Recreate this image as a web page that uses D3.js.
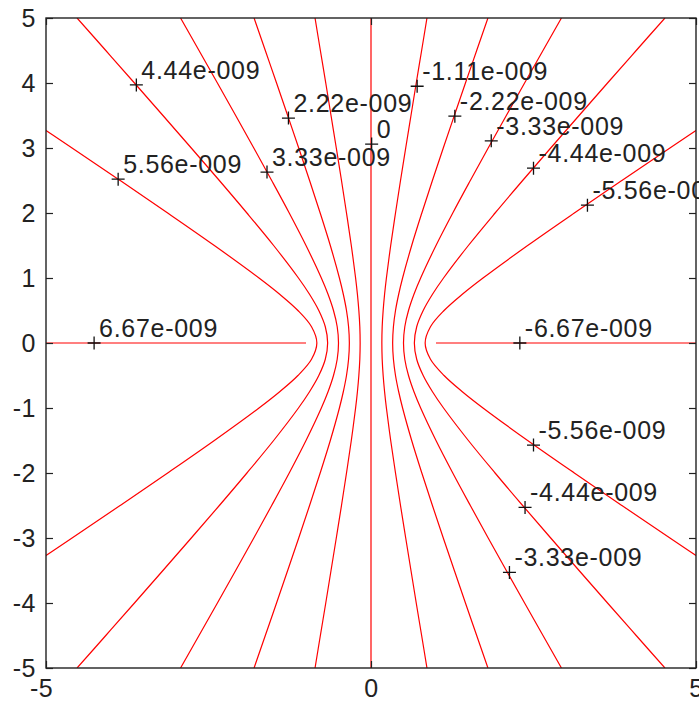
<!DOCTYPE html>
<html>
<head>
<meta charset="utf-8">
<script src="https://cdn.jsdelivr.net/npm/d3@7"></script>
<style>
body { margin: 0; background: #fff; }
text { font-family: "Liberation Sans", Arial, sans-serif; }
</style>
</head>
<body>
<svg id="chart" width="699" height="702"></svg>
<script>
// ticks
var xTicks = [-5, 0, 5];
var yTicks = [-5, -4, -3, -2, -1, 0, 1, 2, 3, 4, 5];

// contour half-widths |x| read at these |y| values (curves are symmetric)
var ys = [0, 0.25, 0.5, 0.75, 1, 1.5, 2, 2.5, 3, 3.5, 4, 4.5, 5];
var level1 = [0.167, 0.172, 0.187, 0.209, 0.237, 0.303, 0.377, 0.454, 0.534, 0.615, 0.696, 0.779, 0.861];
var level2 = [0.333, 0.345, 0.377, 0.426, 0.486, 0.626, 0.782, 0.945, 1.112, 1.282, 1.453, 1.626, 1.799];
var level3 = [0.500, 0.520, 0.577, 0.661, 0.764, 1.000, 1.258, 1.528, 1.803, 2.082, 2.363, 2.646, 2.930];
var level4 = [0.667, 0.703, 0.803, 0.946, 1.116, 1.498, 1.909, 2.333, 2.765, 3.201, 3.639, 4.080, 4.522];
var level5 = [0.833, 0.915, 1.124, 1.405, 1.723, 2.410, 3.128, 3.860, 4.599, 5.342];

// zero contour and the two flat +-6.67e-009 contours on the x axis
var zeroLine = [[0, -5], [0, 5]];
var flatLeft = [[-5, 0], [-1, 0]];
var flatRight = [[1, 0], [5, 0]];

// contour labels
var labelText = ["4.44e-009", "2.22e-009", "0", "3.33e-009", "5.56e-009", "6.67e-009",
  "-1.11e-009", "-2.22e-009", "-3.33e-009", "-4.44e-009", "-5.56e-009", "-6.67e-009",
  "-5.56e-009", "-4.44e-009", "-3.33e-009"];
var labelX = [-3.61, -1.27, 0.01, -1.60, -3.89, -4.26,
  0.71, 1.29, 1.85, 2.50, 3.33, 2.29,
  2.50, 2.37, 2.13];
var labelY = [3.97, 3.46, 3.06, 2.63, 2.52, 0,
  3.95, 3.49, 3.11, 2.69, 2.12, 0,
  -1.57, -2.53, -3.53];

var svg = d3.select("#chart");
var padLeft = 46, padTop = 18, size = 650;

var x = d3.scaleLinear().domain([-5, 5]).range([padLeft, padLeft + size]);
var y = d3.scaleLinear().domain([-5, 5]).range([padTop + size, padTop]);

svg.append("rect").attr("width", 699).attr("height", 702).attr("fill", "#fff");

svg.append("clipPath").attr("id", "plotclip")
  .append("rect").attr("x", padLeft).attr("y", padTop).attr("width", size).attr("height", size);

var line = d3.line()
  .x(function(d) { return x(d[0]); })
  .y(function(d) { return y(d[1]); })
  .curve(d3.curveCatmullRom);

function branch(widths, side) {
  var pts = [];
  for (var i = widths.length - 1; i > 0; i--) pts.push([side * widths[i], -ys[i]]);
  for (var j = 0; j < widths.length; j++) pts.push([side * widths[j], ys[j]]);
  return pts;
}

var curves = [];
[level1, level2, level3, level4, level5].forEach(function(w) {
  curves.push(branch(w, -1));
  curves.push(branch(w, 1));
});
curves.push(zeroLine, flatLeft, flatRight);

var g = svg.append("g").attr("clip-path", "url(#plotclip)");
g.selectAll("path.contour")
  .data(curves)
  .enter().append("path")
  .attr("class", "contour")
  .attr("d", line)
  .attr("fill", "none")
  .attr("stroke", "#ff0000")
  .attr("stroke-width", 1.2);

// axes, ticks pointing inward like matlab
function styleAxis(sel) {
  sel.select(".domain").remove();
  sel.selectAll("line").attr("stroke", "#222").attr("stroke-width", 1.2);
  sel.selectAll("text").attr("fill", "#222").style("font-size", "25px").style("letter-spacing", "0.5px");
}
var fmt = function(d) { return String(d); };

svg.append("g").attr("transform", "translate(" + padLeft + ",0)")
  .call(d3.axisLeft(y).tickValues(yTicks).tickSizeInner(-7).tickSizeOuter(0).tickPadding(10).tickFormat(fmt))
  .call(styleAxis);
svg.append("g").attr("transform", "translate(" + (padLeft + size) + ",0)")
  .call(d3.axisRight(y).tickValues(yTicks).tickSizeInner(-7).tickSizeOuter(0).tickFormat(""))
  .call(styleAxis);
svg.append("g").attr("transform", "translate(0," + (padTop + size) + ")")
  .call(d3.axisBottom(x).tickValues(xTicks).tickSizeInner(-7).tickSizeOuter(0).tickPadding(11).tickFormat(fmt))
  .call(styleAxis)
  .selectAll("text").attr("dx", function(d) { return d < 0 ? "-0.2em" : 0; });
svg.append("g").attr("transform", "translate(0," + padTop + ")")
  .call(d3.axisTop(x).tickValues(xTicks).tickSizeInner(-7).tickSizeOuter(0).tickFormat(""))
  .call(styleAxis);

svg.append("rect")
  .attr("x", padLeft).attr("y", padTop).attr("width", size).attr("height", size)
  .attr("fill", "none").attr("stroke", "#222").attr("stroke-width", 1.4);

// labels with + markers
var lab = svg.append("g").selectAll("g")
  .data(labelText)
  .enter().append("g")
  .attr("transform", function(d, i) { return "translate(" + x(labelX[i]) + "," + y(labelY[i]) + ")"; });

lab.append("path")
  .attr("d", "M-6.5,0H6.5M0,-6.5V6.5")
  .attr("stroke", "#111")
  .attr("stroke-width", 1.3);

lab.append("text")
  .attr("x", 5)
  .attr("y", -6)
  .attr("fill", "#222")
  .style("font-size", "25px")
  .style("letter-spacing", "0.7px")
  .text(function(d) { return d; });
</script>
</body>
</html>
